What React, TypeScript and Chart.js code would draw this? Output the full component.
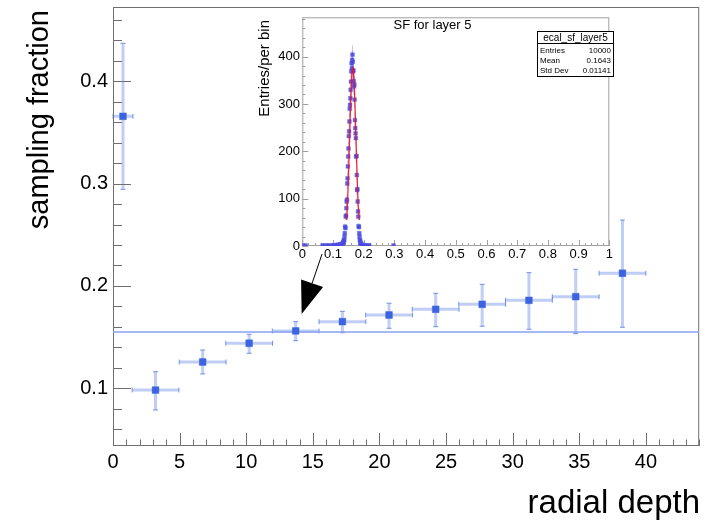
import React, { useEffect, useRef } from 'react';
import { Chart, registerables } from 'chart.js';

Chart.register(...registerables);

const FONT = "'Liberation Sans', Arial, Helvetica, sans-serif";

// ---------- main graph: sampling fraction vs radial depth ----------
const depthX = [0.75, 3.19, 6.73, 10.22, 13.71, 17.22, 20.72, 24.22, 27.71, 31.22, 34.73, 38.24];
const depthXErr = [0.75, 1.755, 1.755, 1.755, 1.755, 1.755, 1.755, 1.755, 1.755, 1.755, 1.755, 1.755];
const sfY = [0.3658, 0.0983, 0.1257, 0.144, 0.156, 0.1651, 0.1716, 0.1772, 0.1821, 0.186, 0.1895, 0.2124];
const sfErrHigh = [0.0713, 0.0179, 0.0117, 0.0088, 0.0091, 0.0101, 0.0115, 0.0156, 0.0195, 0.027, 0.0268, 0.052];
const sfErrLow = [0.0713, 0.0195, 0.0117, 0.0098, 0.0095, 0.0108, 0.013, 0.017, 0.0215, 0.0283, 0.0361, 0.0528];
const fitConst = 0.155;

const mainXMin = 0;
const mainXMax = 44.0;
const mainYMin = 0.0436;
const mainYMax = 0.4726;
const mainXTicks = [0, 5, 10, 15, 20, 25, 30, 35, 40];
const mainYTicks = [0.1, 0.2, 0.3, 0.4];
const mainXMinorStep = 1;
const mainYMinorStep = 0.02;

const arrowStart = [15.69, 0.2312];
const arrowTip = [14.16, 0.1726];

// ---------- inset histogram: SF for layer 5 ----------
const histTailX = [0.002, 0.011, 0.066, 0.073, 0.082, 0.09, 0.098, 0.104, 0.109, 0.113, 0.117, 0.121, 0.124, 0.127, 0.202, 0.207, 0.213, 0.218, 0.297];
const histTailY = [1, 1, 1, 1, 1, 1, 1, 2, 1, 2, 3, 2, 4, 3, 2, 1, 1, 1, 1];
const histPeakStart = 0.1305;
const histBinWidth = 0.001;
const histPeakCounts = [
  4, 6, 5, 9, 8, 13, 12, 20, 27, 41, 38, 62, 64, 80, 94, 98, 132, 143, 168, 189,
  206, 232, 242, 263, 290, 298, 312, 330, 347, 369, 386, 375, 393, 404, 389, 369, 371, 348, 337, 341,
  309, 266, 249, 238, 228, 189, 190, 150, 118, 120, 94, 73, 62, 42, 40, 27, 20, 13, 11, 6,
  7, 4, 3, 2, 2, 1,
];
const fitX = [0.1446, 0.147, 0.15, 0.153, 0.156, 0.159, 0.162, 0.1645, 0.167, 0.17, 0.173, 0.176, 0.179, 0.182, 0.1857];
const fitY = [55, 88, 140, 203, 268, 326, 366, 378, 366, 326, 268, 203, 140, 88, 55];

const insetXTicks = [0, 0.1, 0.2, 0.3, 0.4, 0.5, 0.6, 0.7, 0.8, 0.9, 1];
const insetXTickLabels = ['0', '0.1', '0.2', '0.3', '0.4', '0.5', '0.6', '0.7', '0.8', '0.9', '1'];
const insetYTicks = [0, 100, 200, 300, 400];
const insetXMinorStep = 0.02;
const insetYMinorStep = 20;
const insetYMax = 483;

const statsName = 'ecal_sf_layer5';
const statsLabels = ['Entries', 'Mean', 'Std Dev'];
const statsValues = ['10000', '0.1643', '0.01141'];

function minorValues(min: number, max: number, step: number) {
  const out: number[] = [];
  const start = Math.ceil(min / step - 1e-9);
  for (let k = start; k * step <= max + 1e-9; k++) out.push(k * step);
  return out;
}

function zeroPad(s: any) {
  s.paddingTop = 0;
  s.paddingBottom = 0;
  s.paddingLeft = 0;
  s.paddingRight = 0;
}

const mainPlugin = {
  id: 'rootMain',
  beforeDatasetsDraw(chart: any) {
    const { ctx, chartArea } = chart;
    const { left, right, top, bottom } = chartArea;
    const xs = chart.scales.x;
    const ys = chart.scales.y;
    ctx.save();
    // error bars
    for (let i = 0; i < depthX.length; i++) {
      const px = xs.getPixelForValue(depthX[i]);
      const py = ys.getPixelForValue(sfY[i]);
      const x1 = Math.max(left, xs.getPixelForValue(depthX[i] - depthXErr[i]));
      const x2 = xs.getPixelForValue(depthX[i] + depthXErr[i]);
      const y1 = ys.getPixelForValue(sfY[i] + sfErrHigh[i]);
      const y2 = ys.getPixelForValue(sfY[i] - sfErrLow[i]);
      ctx.strokeStyle = 'rgba(65,105,225,0.33)';
      ctx.lineWidth = 3;
      ctx.beginPath();
      ctx.moveTo(x1, py); ctx.lineTo(x2, py);
      ctx.moveTo(px, y1); ctx.lineTo(px, y2);
      ctx.stroke();
      ctx.strokeStyle = 'rgba(65,105,225,0.7)';
      ctx.lineWidth = 1;
      ctx.beginPath();
      ctx.moveTo(x1, py - 2.5); ctx.lineTo(x1, py + 2.5);
      ctx.moveTo(x2, py - 2.5); ctx.lineTo(x2, py + 2.5);
      ctx.moveTo(px - 2.5, y1); ctx.lineTo(px + 2.5, y1);
      ctx.moveTo(px - 2.5, y2); ctx.lineTo(px + 2.5, y2);
      ctx.stroke();
    }
    // frame
    ctx.strokeStyle = '#707070';
    ctx.lineWidth = 1;
    ctx.strokeRect(left + 0.5, top + 0.5, right - left - 1, bottom - top - 1);
    // ticks
    ctx.beginPath();
    for (const v of minorValues(mainXMin, mainXMax, mainXMinorStep)) {
      const px = Math.round(xs.getPixelForValue(v)) + 0.5;
      const major = mainXTicks.some((t) => Math.abs(t - v) < 1e-6);
      ctx.moveTo(px, bottom);
      ctx.lineTo(px, bottom - (major ? 13 : 6.5));
    }
    for (const v of minorValues(mainYMin, mainYMax, mainYMinorStep)) {
      const py = Math.round(ys.getPixelForValue(v)) + 0.5;
      const major = mainYTicks.some((t) => Math.abs(t - v) < 1e-6);
      ctx.moveTo(left, py);
      ctx.lineTo(left + (major ? 18 : 9), py);
    }
    ctx.stroke();
    ctx.restore();
  },
  afterDraw(chart: any) {
    const { ctx } = chart;
    const xs = chart.scales.x;
    const ys = chart.scales.y;
    ctx.save();
    ctx.fillStyle = '#000';
    // axis titles
    ctx.font = `29px ${FONT}`;
    ctx.textAlign = 'right';
    ctx.textBaseline = 'alphabetic';
    ctx.save();
    ctx.translate(48, 10);
    ctx.rotate(-Math.PI / 2);
    ctx.fillText('sampling fraction', 0, 0);
    ctx.restore();
    ctx.font = `33px ${FONT}`;
    ctx.fillText('radial depth', 700, 513);
    // arrow
    const sx = xs.getPixelForValue(arrowStart[0]);
    const sy = ys.getPixelForValue(arrowStart[1]);
    const tx = xs.getPixelForValue(arrowTip[0]);
    const ty = ys.getPixelForValue(arrowTip[1]);
    const dx = tx - sx;
    const dy = ty - sy;
    const len = Math.hypot(dx, dy);
    const ux = dx / len;
    const uy = dy / len;
    const headLen = 32.4;
    const headHalf = 11.6;
    const bx = tx - ux * headLen;
    const by = ty - uy * headLen;
    ctx.strokeStyle = '#000';
    ctx.lineWidth = 1;
    ctx.beginPath();
    ctx.moveTo(sx, sy);
    ctx.lineTo(bx, by);
    ctx.stroke();
    ctx.beginPath();
    ctx.moveTo(tx, ty);
    ctx.lineTo(bx - uy * headHalf, by + ux * headHalf);
    ctx.lineTo(bx + uy * headHalf, by - ux * headHalf);
    ctx.closePath();
    ctx.fill();
    ctx.restore();
  },
};

const insetPlugin = {
  id: 'rootInset',
  beforeDatasetsDraw(chart: any) {
    const { ctx, chartArea } = chart;
    const { left, right, top, bottom } = chartArea;
    const xs = chart.scales.x;
    const ys = chart.scales.y;
    ctx.save();
    // frame
    ctx.strokeStyle = '#a0a0a0';
    ctx.lineWidth = 1;
    ctx.strokeRect(left + 0.5, top + 0.5, right - left - 1, bottom - top - 1);
    ctx.beginPath();
    for (const v of minorValues(0, 1, insetXMinorStep)) {
      const px = Math.round(xs.getPixelForValue(v)) + 0.5;
      const major = insetXTicks.some((t) => Math.abs(t - v) < 1e-6);
      ctx.moveTo(px, bottom);
      ctx.lineTo(px, bottom - (major ? 6 : 3));
    }
    for (const v of minorValues(0, insetYMax, insetYMinorStep)) {
      const py = Math.round(ys.getPixelForValue(v)) + 0.5;
      const major = insetYTicks.some((t) => Math.abs(t - v) < 1e-6);
      ctx.moveTo(left, py);
      ctx.lineTo(left + (major ? 6 : 3), py);
    }
    ctx.stroke();
    // error bars of histogram
    const ds = chart.data.datasets[1].data as { x: number; y: number }[];
    ctx.strokeStyle = 'rgba(90,90,230,0.35)';
    ctx.lineWidth = 1;
    ctx.beginPath();
    for (const p of ds) {
      const e = Math.sqrt(p.y);
      const px = xs.getPixelForValue(p.x);
      ctx.moveTo(px, ys.getPixelForValue(p.y + e));
      ctx.lineTo(px, ys.getPixelForValue(Math.max(0, p.y - e)));
    }
    ctx.stroke();
    ctx.restore();
  },
  afterDraw(chart: any) {
    const { ctx } = chart;
    ctx.save();
    ctx.fillStyle = '#000';
    // y title
    ctx.font = `15px ${FONT}`;
    ctx.textAlign = 'right';
    ctx.textBaseline = 'alphabetic';
    ctx.save();
    ctx.translate(268.5, 20);
    ctx.rotate(-Math.PI / 2);
    ctx.fillText('Entries/per bin', 0, 0);
    ctx.restore();
    // title
    ctx.font = `13px ${FONT}`;
    ctx.textAlign = 'center';
    ctx.textBaseline = 'middle';
    ctx.fillText('SF for layer 5', 432.5, 25);
    // stats box
    const bx1 = 537.5, by1 = 31.5, bx2 = 613.5, by2 = 76.5;
    ctx.fillStyle = '#fff';
    ctx.fillRect(bx1, by1, bx2 - bx1, by2 - by1);
    ctx.strokeStyle = '#000';
    ctx.lineWidth = 1;
    ctx.strokeRect(bx1, by1, bx2 - bx1, by2 - by1);
    ctx.beginPath();
    ctx.moveTo(bx1, 43.5);
    ctx.lineTo(bx2, 43.5);
    ctx.stroke();
    ctx.fillStyle = '#000';
    ctx.font = `10px ${FONT}`;
    ctx.textAlign = 'center';
    ctx.fillText(statsName, (bx1 + bx2) / 2, 38);
    ctx.font = `8px ${FONT}`;
    const rowsY = [50.5, 60.8, 70.8];
    statsLabels.forEach((lab, i) => {
      ctx.textAlign = 'left';
      ctx.fillText(lab, bx1 + 2.5, rowsY[i]);
      ctx.textAlign = 'right';
      ctx.fillText(statsValues[i], bx2 - 2.5, rowsY[i]);
    });
    ctx.restore();
  },
};

export default function App() {
  const mainRef = useRef<HTMLCanvasElement>(null);
  const insetRef = useRef<HTMLCanvasElement>(null);

  useEffect(() => {
    document.body.style.margin = '0';
    const main = new Chart(mainRef.current as HTMLCanvasElement, {
      type: 'scatter',
      data: {
        datasets: [
          {
            type: 'line',
            label: 'fit',
            data: [
              { x: mainXMin, y: fitConst },
              { x: mainXMax, y: fitConst },
            ],
            borderColor: '#8aa2ef',
            borderWidth: 1.5,
            pointRadius: 0,
            order: 2,
          } as any,
          {
            label: 'sampling fraction',
            data: depthX.map((x, i) => ({ x, y: sfY[i] })),
            pointStyle: 'rect',
            pointRadius: 4.8,
            backgroundColor: '#3d63df',
            borderColor: 'rgba(65,105,225,0.45)',
            borderWidth: 1,
            order: 1,
          },
        ],
      },
      options: {
        responsive: false,
        animation: false,
        events: [],
        layout: { padding: { top: 7, right: 3, left: 0, bottom: 0 } },
        plugins: { legend: { display: false }, tooltip: { enabled: false } },
        scales: {
          x: {
            type: 'linear',
            position: 'bottom',
            min: mainXMin,
            max: mainXMax,
            grid: { display: false, drawTicks: false },
            border: { display: false },
            afterFit: (s: any) => { s.height = 75; zeroPad(s); },
            afterBuildTicks: (s: any) => { s.ticks = mainXTicks.map((v) => ({ value: v })); },
            ticks: {
              font: { family: FONT, size: 20 },
              color: '#000',
              padding: 4,
              maxRotation: 0,
              autoSkip: false,
              callback: (v: any) => String(v),
            },
          },
          y: {
            type: 'linear',
            position: 'left',
            min: mainYMin,
            max: mainYMax,
            grid: { display: false, drawTicks: false },
            border: { display: false },
            afterFit: (s: any) => { s.width = 113; zeroPad(s); },
            afterBuildTicks: (s: any) => { s.ticks = mainYTicks.map((v) => ({ value: v })); },
            ticks: {
              font: { family: FONT, size: 20 },
              color: '#000',
              padding: 5,
              autoSkip: false,
              callback: (v: any) => String(v),
            },
          },
        },
      },
      plugins: [mainPlugin],
    });

    const histPoints = [
      ...histTailX.map((x, i) => ({ x, y: histTailY[i] })),
      ...histPeakCounts.map((c, i) => ({ x: histPeakStart + i * histBinWidth, y: c })),
    ];

    const inset = new Chart(insetRef.current as HTMLCanvasElement, {
      type: 'scatter',
      data: {
        datasets: [
          {
            type: 'line',
            label: 'gaus fit',
            data: fitX.map((x, i) => ({ x, y: fitY[i] })),
            borderColor: 'rgba(235,20,40,0.9)',
            borderWidth: 1.3,
            pointRadius: 0,
            tension: 0.4,
            order: 1,
          } as any,
          {
            label: 'SF layer 5',
            data: histPoints,
            pointStyle: 'rect',
            pointRadius: 2.7,
            backgroundColor: 'rgba(70,70,222,0.85)',
            borderColor: 'rgba(90,90,230,0.35)',
            borderWidth: 1,
            order: 2,
          },
        ],
      },
      options: {
        responsive: false,
        animation: false,
        events: [],
        layout: { padding: { top: 17.3, right: 95.7, left: 0, bottom: 0 } },
        plugins: { legend: { display: false }, tooltip: { enabled: false } },
        scales: {
          x: {
            type: 'linear',
            position: 'bottom',
            min: 0,
            max: 1,
            grid: { display: false, drawTicks: false },
            border: { display: false },
            afterFit: (s: any) => { s.height = 275; zeroPad(s); },
            afterBuildTicks: (s: any) => { s.ticks = insetXTicks.map((v) => ({ value: v })); },
            ticks: {
              font: { family: FONT, size: 13 },
              color: '#000',
              padding: 1,
              maxRotation: 0,
              autoSkip: false,
              callback: (_v: any, i: number) => insetXTickLabels[i],
            },
          },
          y: {
            type: 'linear',
            position: 'left',
            min: 0,
            max: insetYMax,
            grid: { display: false, drawTicks: false },
            border: { display: false },
            afterFit: (s: any) => { s.width = 302.3; zeroPad(s); },
            afterBuildTicks: (s: any) => { s.ticks = insetYTicks.map((v) => ({ value: v })); },
            ticks: {
              font: { family: FONT, size: 13 },
              color: '#000',
              padding: 2.3,
              autoSkip: false,
              callback: (v: any) => String(v),
            },
          },
        },
      },
      plugins: [insetPlugin],
    });

    return () => {
      main.destroy();
      inset.destroy();
    };
  }, []);

  return (
    <div style={{ position: 'relative', width: 705, height: 521, background: '#fff' }}>
      <canvas
        ref={mainRef}
        width={705}
        height={521}
        style={{ position: 'absolute', left: 0, top: 0, width: 705, height: 521 }}
      />
      <canvas
        ref={insetRef}
        width={705}
        height={521}
        style={{ position: 'absolute', left: 0, top: 0, width: 705, height: 521 }}
      />
    </div>
  );
}
